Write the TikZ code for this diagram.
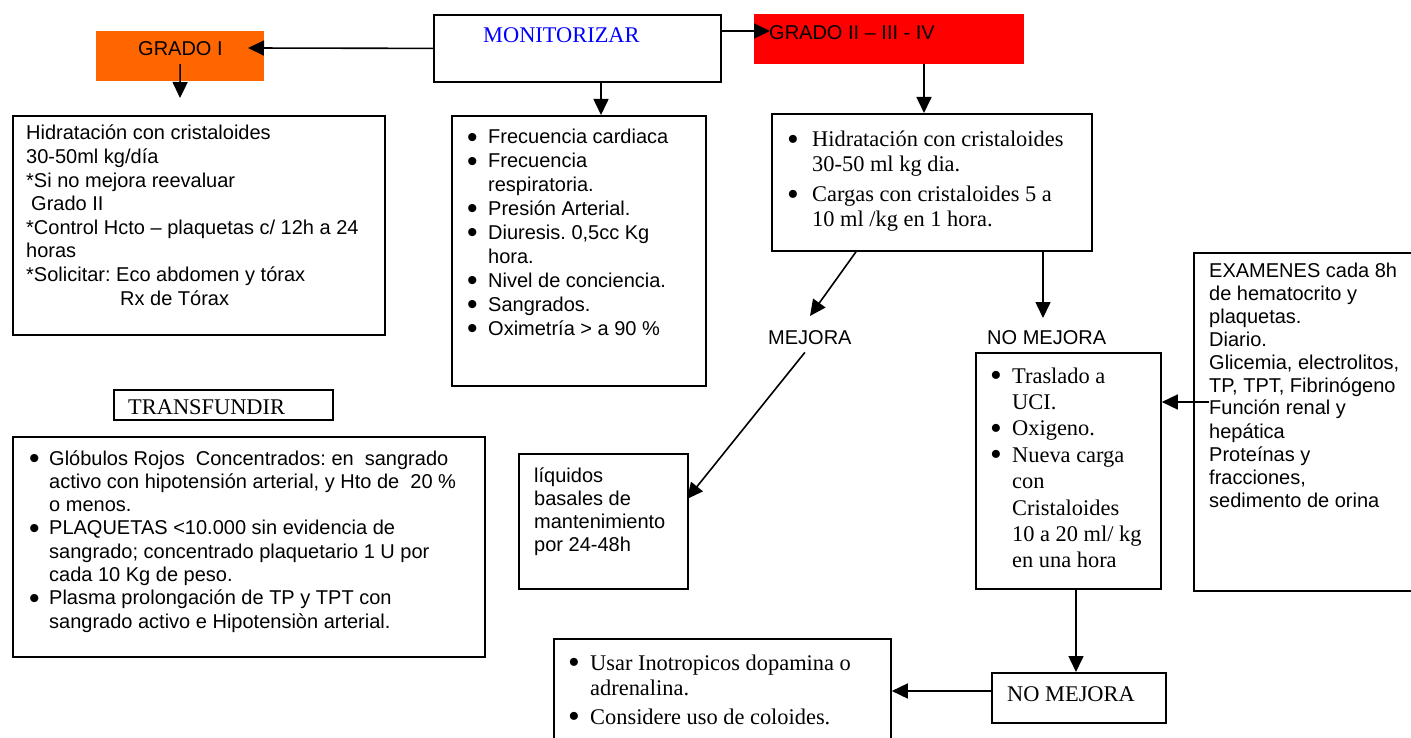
\documentclass[tikz,border=0pt]{standalone}
\usepackage{fontspec}
\setmainfont{Liberation Serif}
\newfontfamily\arialf{Liberation Sans}
\usetikzlibrary{arrows.meta}
\definecolor{gradoorange}{HTML}{FF6600}
\definecolor{gradored}{HTML}{FF0000}
\definecolor{montext}{HTML}{0000FF}
\frenchspacing
% enlarged bullet dot, sitting at mid letter height, taking no line height
\newcommand\bigdot{\smash{\raisebox{-3.3pt}{\scalebox{1.5}{\textbullet}}}}
% bullet with a fixed hanging width, and the matching indent for wrapped lines
\newcommand\blt[1][21pt]{\makebox[#1][l]{\bigdot}}
\newcommand\hng[1][21pt]{\hspace*{#1}}
\newcommand\sftxt[1]{\arialf\fontsize{20}{#1}\selectfont}
\newcommand\rmtxt[1]{\fontsize{22.4}{#1}\selectfont}

\begin{document}
\begin{tikzpicture}[x=1pt,y=-1pt,
  box/.style={draw, line width=1.8pt, inner sep=0pt, anchor=north west},
  fillbox/.style={inner sep=0pt, anchor=north west},
  txt/.style={inner sep=0pt, anchor=base west},
  arr/.style={line width=1.6pt, -{Triangle[length=16pt,width=15pt]}}]
\useasboundingbox (0,0) rectangle (1411,738);

% ---- boxes ----
\node[fillbox, fill=gradoorange, minimum width=168pt, minimum height=50pt] (gi) at (96,31) {};
\node[box, minimum width=287pt, minimum height=67pt] (mon) at (433,14) {};
\node[fillbox, fill=gradored, minimum width=270pt, minimum height=50pt] (g2) at (754,14) {};
\node[box, minimum width=372pt, minimum height=219pt] (b1) at (12,115) {};
\node[box, minimum width=254pt, minimum height=270pt] (b2) at (451,115) {};
\node[box, minimum width=320pt, minimum height=137pt] (b3) at (771,113) {};
\node[box, minimum width=169pt, minimum height=135pt] (liq) at (518,453) {};
\node[box, minimum width=219pt, minimum height=30pt] (tr) at (113,389) {};
\node[box, minimum width=472pt, minimum height=220pt] (b4) at (12,436) {};
\node[box, minimum width=185pt, minimum height=236pt] (b5) at (975,352) {};
\node[box, minimum width=240pt, minimum height=338pt] (ex) at (1193,252) {};
\node[box, minimum width=174pt, minimum height=50pt] (nm) at (991,672) {};
\node[box, minimum width=337pt, minimum height=120pt] (ino) at (553,638) {};

% ---- titles ----
\node[txt, font=\sftxt{24}] (giT) at (138,56) {GRADO I};
\node[txt, font=\rmtxt{26}, text=montext] (monT) at (483,43) {MONITORIZAR};
\node[txt, font=\sftxt{24}] (g2T) at (769,40) {GRADO II – III - IV};
\begin{scope}
  \clip (tr.north west) rectangle ([yshift=2pt]tr.south east);
  \node[txt, font=\rmtxt{26}] (trT) at (128,414) {TRANSFUNDIR};
\end{scope}
\node[txt, font=\rmtxt{26}] (nmT) at (1007,701) {NO MEJORA};
\node[txt, font=\sftxt{24}] (mej) at (768,344) {MEJORA};
\node[txt, font=\sftxt{24}] (nomej) at (987,344) {NO MEJORA};

% ---- box texts ----
\node[txt] (b1T) at (26,140) {\begin{minipage}[t]{360pt}\sftxt{23.6}%
Hidratación con cristaloides\\
30-50ml kg/día\\
{*}Si no mejora reevaluar\\
\hspace*{5pt}Grado II\\
{*}Control Hcto – plaquetas c/ 12h a 24\\
horas\\
{*}Solicitar: Eco abdomen y tórax\\
\hspace*{94pt}Rx de Tórax\end{minipage}};

\node[txt] (b2T) at (467,144) {\begin{minipage}[t]{235pt}\sftxt{23.9}%
\blt Frecuencia cardiaca\\
\blt Frecuencia\\
\hng respiratoria.\\
\blt Presión Arterial.\\
\blt Diuresis. 0,5cc Kg\\
\hng hora.\\
\blt Nivel de conciencia.\\
\blt Sangrados.\\
\blt Oximetría > a 90 \%\end{minipage}};

\node[txt] (b3T) at (787,147) {\begin{minipage}[t]{295pt}\rmtxt{25}%
\blt[25pt]Hidratación con cristaloides\\
\hng[25pt]30-50 ml kg dia.\\[5pt]
\blt[25pt]Cargas con cristaloides 5 a\\
\hng[25pt]10 ml /kg en 1 hora.\end{minipage}};

\node[txt] (liqT) at (534,482) {\begin{minipage}[t]{150pt}\sftxt{23}%
líquidos\\
basales de\\
mantenimiento\\
por 24-48h\end{minipage}};

\node[txt] (b4T) at (29,465) {\begin{minipage}[t]{450pt}\sftxt{23.3}%
\blt[20pt]Glóbulos Rojos\ \ Concentrados: en\ \ sangrado\\
\hng[20pt]activo con hipotensión arterial, y Hto de\ \ 20 \%\\
\hng[20pt]o menos.\\
\blt[20pt]PLAQUETAS <10.000 sin evidencia de\\
\hng[20pt]sangrado; concentrado plaquetario 1 U por\\
\hng[20pt]cada 10 Kg de peso.\\
\blt[20pt]Plasma prolongación de TP y TPT con\\
\hng[20pt]sangrado activo e Hipotensiòn arterial.\end{minipage}};

\node[txt] (b5T) at (990,383) {\begin{minipage}[t]{165pt}\rmtxt{26.4}%
\blt[22pt]Traslado a\\
\hng[22pt]UCI.\\
\blt[22pt]Oxigeno.\\
\blt[22pt]Nueva carga\\
\hng[22pt]con\\
\hng[22pt]Cristaloides\\
\hng[22pt]10 a 20 ml/ kg\\
\hng[22pt]en una hora\end{minipage}};

\node[txt] (exT) at (1209,277) {\begin{minipage}[t]{200pt}\sftxt{23}%
EXAMENES cada 8h\\
de hematocrito y\\
plaquetas.\\
Diario.\\
Glicemia, electrolitos,\\
TP, TPT, Fibrinógeno\\
Función renal y\\
hepática\\
Proteínas y\\
fracciones,\\
sedimento de orina\end{minipage}};

\node[txt] (inoT) at (568,670) {\begin{minipage}[t]{310pt}\rmtxt{25}%
\blt[22pt]Usar Inotropicos dopamina o\\
\hng[22pt]adrenalina.\\[4pt]
\blt[22pt]Considere uso de coloides.\end{minipage}};

% ---- connectors ----
\coordinate (giTip) at (248,48);
\draw[arr] (mon.west) -- (giTip);
\coordinate (g2Tip) at (770,31);
\draw[arr] (mon.east |- g2Tip) -- (g2Tip);
\coordinate (giDown) at (180,98);
\draw[arr] ([yshift=-8pt]gi.center) -- (giDown);
\coordinate (mx) at (601,0);
\draw[arr] (mon.south -| mx) -- (b2.north -| mx);
\coordinate (gx) at (924,0);
\draw[arr] (g2.south -| gx) -- (b3.north -| gx);
\coordinate (mejStart) at (856,0);
\coordinate (mejTip) at (810,316);
\draw[arr] (b3.south -| mejStart) -- (mejTip);
\coordinate (nmTip) at (1043,318);
\draw[arr] (b3.south -| nmTip) -- (nmTip);
\coordinate (liqTip) at (687,499);
\draw[arr] ([xshift=-5pt,yshift=-8pt]mej.south) -- (liqTip);
\coordinate (exStart) at (1209,402);
\draw[arr] (exStart) -- (b5.east |- exStart);
\coordinate (b5x) at (1076,0);
\draw[arr] (b5.south -| b5x) -- (nm.north -| b5x);
\coordinate (nmy) at (0,691);
\draw[arr] (nm.west |- nmy) -- (ino.east |- nmy);
\end{tikzpicture}
\end{document}
